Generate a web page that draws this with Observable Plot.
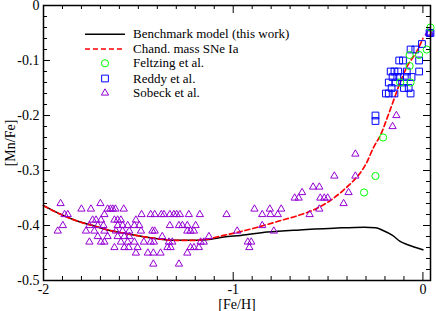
<!DOCTYPE html>
<html><head><meta charset="utf-8">
<script src="https://cdn.jsdelivr.net/npm/d3@7"></script>
<script src="https://cdn.jsdelivr.net/npm/@observablehq/plot@0.6"></script>
<style>body{margin:0;background:#fff}</style>
</head><body><div id="chart"></div>
<script>
// ---- data ----
const xTicks = [-2, -1, 0];
const yTicks = [0, -0.1, -0.2, -0.3, -0.4, -0.5];
const xTitle = "[Fe/H]";
const yTitle = "[Mn/Fe]";
const seriesNames = ["Benchmark model (this work)", "Chand. mass SNe Ia", "Feltzing et al.", "Reddy et al.", "Sobeck et al."];

const benchFe = [-2.0, -1.92, -1.83, -1.74, -1.65, -1.56, -1.48, -1.40, -1.31, -1.22, -1.14, -1.05, -0.96, -0.82, -0.65, -0.47, -0.31, -0.25, -0.21, -0.16, -0.12, -0.08, 0.0];
const benchMn = [-0.364, -0.378, -0.391, -0.400, -0.409, -0.415, -0.420, -0.424, -0.427, -0.427, -0.426, -0.421, -0.418, -0.412, -0.408, -0.405, -0.403, -0.404, -0.409, -0.418, -0.429, -0.435, -0.444];

const chandFe = [-2.0, -1.92, -1.83, -1.74, -1.65, -1.56, -1.48, -1.40, -1.31, -1.22, -1.14, -1.05, -0.96, -0.86, -0.75, -0.65, -0.56, -0.49, -0.42, -0.37, -0.30, -0.26, -0.22, -0.19, -0.155, -0.12, -0.085, -0.03, 0.0];
const chandMn = [-0.364, -0.378, -0.391, -0.400, -0.409, -0.415, -0.420, -0.424, -0.427, -0.427, -0.425, -0.418, -0.411, -0.402, -0.391, -0.381, -0.369, -0.355, -0.336, -0.320, -0.288, -0.258, -0.233, -0.206, -0.173, -0.140, -0.112, -0.082, -0.060];

const feltzing = [[0.04,-0.04],[0.02,-0.08],[-0.02,-0.09],[-0.07,-0.09],[-0.07,-0.11],[-0.12,-0.14],[-0.065,-0.14],[-0.21,-0.24],[-0.25,-0.31],[-0.31,-0.34]];

const reddy = [[0.035,-0.05],[0.04,-0.05],[-0.005,-0.07],[-0.065,-0.08],[-0.04,-0.08],
  [-0.125,-0.10],[-0.105,-0.10],[-0.02,-0.10],
  [-0.17,-0.12],[-0.15,-0.12],[-0.13,-0.12],[-0.085,-0.12],[-0.02,-0.12],
  [-0.16,-0.13],[-0.135,-0.13],[-0.12,-0.13],[-0.085,-0.13],[-0.06,-0.13],
  [-0.18,-0.14],[-0.145,-0.14],[-0.10,-0.14],
  [-0.165,-0.15],[-0.10,-0.15],[-0.075,-0.15],
  [-0.195,-0.16],[-0.18,-0.16],[-0.15,-0.16],[-0.065,-0.16],
  [-0.25,-0.20],[-0.25,-0.21]];

const sobeck = [
  [-1.91,-0.36],[-1.70,-0.36],
  [-1.80,-0.37],[-1.75,-0.37],[-1.662,-0.37],[-1.647,-0.37],[-1.635,-0.37],[-1.621,-0.37],[-1.577,-0.37],
  [-1.889,-0.38],[-1.872,-0.38],[-1.679,-0.38],[-1.483,-0.38],
  [-1.741,-0.39],[-1.723,-0.39],[-1.697,-0.39],[-1.626,-0.39],[-1.609,-0.39],[-1.592,-0.39],[-1.513,-0.39],
  [-1.898,-0.40],[-1.758,-0.40],[-1.714,-0.40],[-1.684,-0.40],[-1.609,-0.40],[-1.583,-0.40],[-1.556,-0.40],[-1.521,-0.40],[-1.495,-0.40],
  [-1.925,-0.41],[-1.776,-0.41],[-1.732,-0.41],[-1.679,-0.41],[-1.618,-0.41],[-1.583,-0.41],[-1.548,-0.41],[-1.486,-0.41],
  [-1.714,-0.42],[-1.662,-0.42],[-1.609,-0.42],[-1.574,-0.42],[-1.548,-0.42],
  [-1.758,-0.43],[-1.697,-0.43],[-1.679,-0.43],[-1.592,-0.43],[-1.556,-0.43],[-1.521,-0.43],
  [-1.626,-0.44],[-1.574,-0.44],[-1.551,-0.44],[-1.504,-0.44],
  [-1.513,-0.45],
  [-1.435,-0.38],[-1.414,-0.38],[-1.379,-0.38],[-1.365,-0.38],[-1.334,-0.38],[-1.313,-0.38],[-1.298,-0.38],[-1.281,-0.38],[-1.234,-0.38],[-1.176,-0.38],[-1.035,-0.38],
  [-1.334,-0.40],[-1.286,-0.40],[-1.268,-0.40],[-1.242,-0.40],[-1.198,-0.40],
  [-1.426,-0.41],[-1.414,-0.41],[-1.242,-0.41],[-1.225,-0.41],[-1.207,-0.41],[-0.979,-0.41],
  [-1.374,-0.42],[-1.128,-0.42],
  [-1.471,-0.43],[-1.435,-0.43],[-1.418,-0.43],[-1.339,-0.43],[-1.321,-0.43],[-1.172,-0.43],[-1.155,-0.43],
  [-1.347,-0.44],[-1.33,-0.44],[-1.225,-0.44],[-1.207,-0.44],[-1.181,-0.44],
  [-1.45,-0.45],[-1.421,-0.45],[-1.383,-0.45],[-1.242,-0.45],
  [-1.421,-0.47],[-1.286,-0.47],
  [-0.923,-0.43],[-0.905,-0.43],[-0.915,-0.44],
  [-0.888,-0.37],[-0.847,-0.38],[-0.807,-0.37],[-0.804,-0.38],[-0.765,-0.38],[-0.747,-0.37],
  [-0.847,-0.40],[-0.786,-0.41],
  [-0.676,-0.35],[-0.655,-0.35],[-0.637,-0.34],[-0.597,-0.38],[-0.579,-0.33],[-0.546,-0.33],
  [-0.546,-0.37],[-0.541,-0.35],[-0.52,-0.35],[-0.502,-0.35],[-0.467,-0.31],[-0.418,-0.36],[-0.392,-0.34],
  [-0.356,-0.27],[-0.356,-0.31],
  [-0.14,-0.20],[-0.16,-0.22],
  [0.03,-0.05],[0.035,-0.05]
];

// ---- layout ----
const W = 436, H = 311, mL = 43, mR = 6, mT = 5, mB = 31;
const iW = W - mL - mR, iH = H - mT - mB;
const xMinor = d3.range(-19, 1).map(i => i / 10).filter(v => !xTicks.includes(v));
const yMinor = d3.range(-25, 1).filter(i => i % 5 !== 0).map(i => i / 50);

const bench = benchFe.map((x, i) => ({x, y: benchMn[i]}));
const chand = chandFe.map((x, i) => ({x, y: chandMn[i]}));
const cTri = "#9400d3", cSq = "#0000ff", cCirc = "#00ff00", cRed = "#ff0000";
const font = "'Liberation Serif','Times New Roman',serif";

const chart = Plot.plot({
  width: W, height: H,
  marginLeft: mL, marginRight: mR, marginTop: mT, marginBottom: mB,
  style: {background: "white", fontFamily: font, fontSize: "14px", overflow: "visible", color: "black"},
  x: {domain: [-2, 0.04]},
  y: {domain: [-0.5, 0]},
  marks: [
    Plot.line(bench, {x: "x", y: "y", stroke: "black", strokeWidth: 1.5, curve: "monotone-x"}),
    Plot.line(chand, {x: "x", y: "y", stroke: cRed, strokeWidth: 1.7, strokeDasharray: "5,3", curve: "monotone-x"}),
    Plot.dot(sobeck, {x: d => d[0], y: d => d[1], symbol: "triangle", r: 2.7, stroke: cTri, fill: "none", strokeWidth: 1}),
    Plot.dot(reddy, {x: d => d[0], y: d => d[1], symbol: "square", r: 3.8, stroke: cSq, fill: "none", strokeWidth: 1}),
    Plot.dot(feltzing, {x: d => d[0], y: d => d[1], symbol: "circle", r: 3.6, stroke: cCirc, fill: "none", strokeWidth: 1}),
    Plot.tickX(xMinor, {x: d => d, insetTop: iH - 4, stroke: "black"}),
    Plot.tickX(xMinor, {x: d => d, insetBottom: iH - 4, stroke: "black"}),
    Plot.tickX(xTicks, {x: d => d, insetTop: iH - 8, stroke: "black"}),
    Plot.tickX(xTicks, {x: d => d, insetBottom: iH - 8, stroke: "black"}),
    Plot.tickY(yMinor, {y: d => d, insetRight: iW - 4, stroke: "black"}),
    Plot.tickY(yMinor, {y: d => d, insetLeft: iW - 4, stroke: "black"}),
    Plot.tickY(yTicks, {y: d => d, insetRight: iW - 7, stroke: "black"}),
    Plot.tickY(yTicks, {y: d => d, insetLeft: iW - 7, stroke: "black"}),
    Plot.frame({stroke: "black", strokeWidth: 1.5}),
    Plot.axisX(xTicks, {tickSize: 0, tickPadding: 4, tickFormat: d => String(d), label: null, fill: "black", fontFamily: font, fontSize: 14}),
    Plot.axisY(yTicks, {tickSize: 0, tickPadding: 4, tickFormat: d => d === 0 ? "0" : d.toFixed(1), label: null, fill: "black", fontFamily: font, fontSize: 14}),
    Plot.text([xTitle], {frameAnchor: "bottom", text: d => d, dy: 24, textAnchor: "middle", lineAnchor: "middle", fill: "black", fontFamily: font, fontSize: 14}),
    Plot.text([yTitle], {frameAnchor: "left", text: d => d, dx: -33, rotate: -90, textAnchor: "middle", lineAnchor: "middle", fill: "black", fontFamily: font, fontSize: 14})
  ]
});
document.getElementById("chart").appendChild(chart);

// ---- legend (inside frame, top-left) ----
const svg = d3.select(chart);
const lg = svg.append("g").attr("font-family", font).attr("font-size", 13).attr("text-anchor", "start");
const rowY = [34.3, 49, 63.3, 78.5, 93];
const symX = 105, lineX1 = 85, lineX2 = 125, textX = 133;
lg.append("line").attr("x1", lineX1).attr("x2", lineX2).attr("y1", rowY[0]).attr("y2", rowY[0]).attr("stroke", "black").attr("stroke-width", 1.5);
lg.append("line").attr("x1", lineX1).attr("x2", lineX2).attr("y1", rowY[1]).attr("y2", rowY[1]).attr("stroke", cRed).attr("stroke-width", 1.7).attr("stroke-dasharray", "5,3");
lg.append("circle").attr("cx", symX).attr("cy", rowY[2]).attr("r", 3.6).attr("fill", "none").attr("stroke", cCirc);
lg.append("path").attr("transform", `translate(${symX},${rowY[3]})`).attr("d", d3.symbol(d3.symbolSquare, Math.PI * 3.8 * 3.8)()).attr("fill", "none").attr("stroke", cSq);
lg.append("path").attr("transform", `translate(${symX},${rowY[4]})`).attr("d", d3.symbol(d3.symbolTriangle, Math.PI * 2.7 * 2.7)()).attr("fill", "none").attr("stroke", cTri);
seriesNames.forEach((name, i) => {
  lg.append("text").attr("x", textX).attr("y", rowY[i]).attr("dy", "0.32em").attr("fill", "black").attr("text-anchor", "start").text(name);
});
</script>
</body></html>
